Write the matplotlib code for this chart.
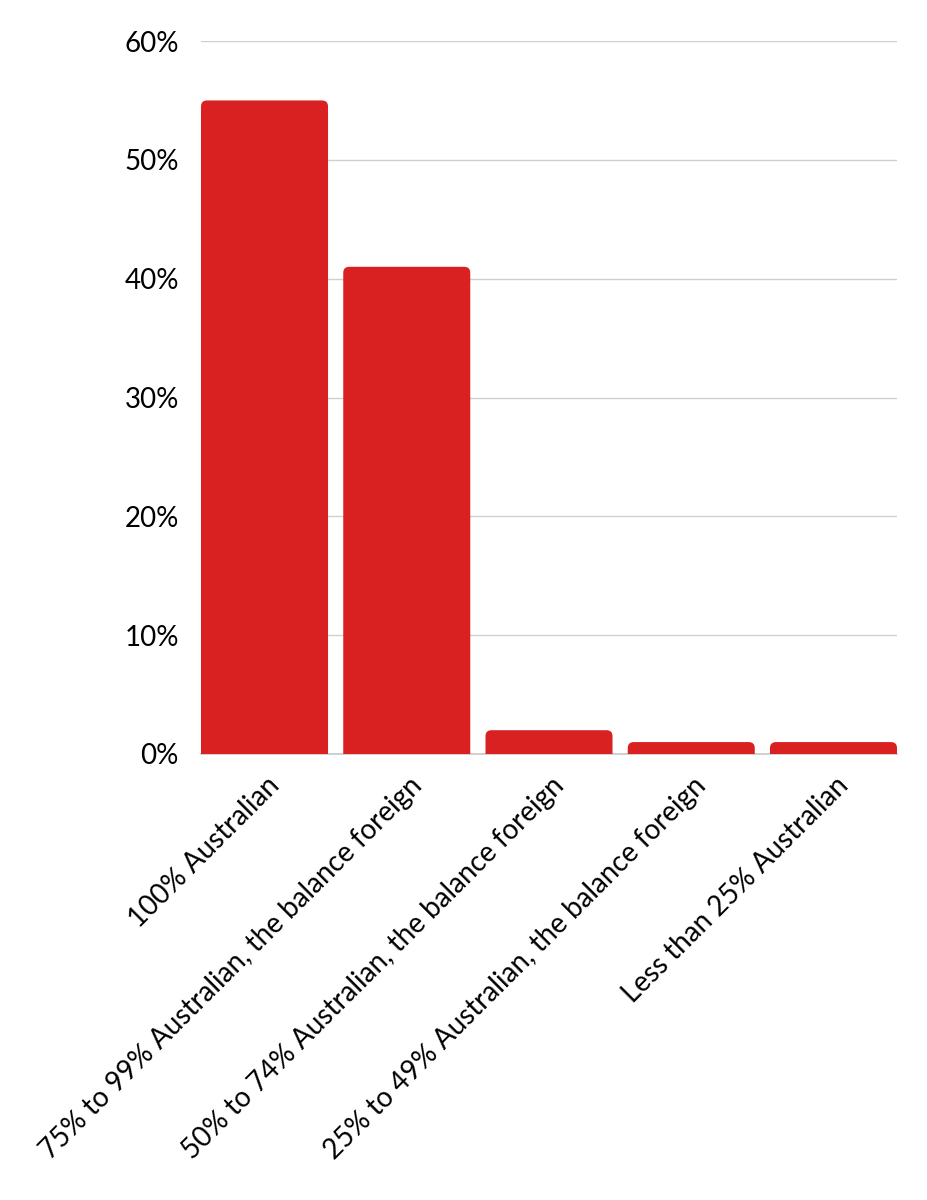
import matplotlib
matplotlib.use("Agg")
import matplotlib.pyplot as plt
import matplotlib.transforms as mtransforms
from matplotlib.patches import FancyBboxPatch

plt.rcParams['font.family'] = ['Lato', 'DejaVu Sans']

# data
categories = [
    "100% Australian",
    "75% to 99% Australian, the balance foreign",
    "50% to 74% Australian, the balance foreign",
    "25% to 49% Australian, the balance foreign",
    "Less than 25% Australian",
]
values = [55, 41, 2, 1, 1]
yticks = [0, 10, 20, 30, 40, 50, 60]

bar_color = '#d92121'
width = 0.893

fig = plt.figure(figsize=(9.28, 12), dpi=100)
ax = fig.add_axes([0.2166, 0.3717, 0.75, 0.5941])

bars = ax.bar(range(len(values)), values, width=width, color=bar_color, zorder=3)
ax.set_xlim(-width / 2, len(values) - 1 + width / 2)
ax.set_ylim(0, 60)

# swap plain bars for rounded-top ones (bottom corners sit below the axis and get clipped)
fig.canvas.draw()
bb = ax.get_window_extent()
px_x = bb.width / (ax.get_xlim()[1] - ax.get_xlim()[0])
px_y = bb.height / (ax.get_ylim()[1] - ax.get_ylim()[0])
radius = 6 / px_x
aspect = px_x / px_y
for b in bars:
    b.set_visible(False)
    x0, w, h = b.get_x(), b.get_width(), b.get_height()
    extra = radius * aspect
    p = FancyBboxPatch((x0, -extra), w, h + extra,
                       boxstyle=f"round,pad=0,rounding_size={radius}",
                       mutation_aspect=aspect, facecolor=bar_color,
                       edgecolor='none', zorder=3, clip_on=True)
    ax.add_patch(p)

ax.set_yticks(yticks)
ax.set_yticklabels([f"{t}%" for t in yticks], fontsize=20)
ax.yaxis.grid(True, color='#d0d0d0', linewidth=1, zorder=0)
ax.set_xticks(range(len(categories)))
ax.set_xticklabels(categories, fontsize=20, rotation=45, ha='right',
                   va='center', rotation_mode='anchor')
ax.tick_params(axis='x', length=0, pad=20)
ax.tick_params(axis='y', length=0, pad=16)

shift = mtransforms.ScaledTranslation(8 / 72, 0, fig.dpi_scale_trans)
for lab in ax.get_xticklabels():
    lab.set_transform(lab.get_transform() + shift)

for s in ['top', 'right', 'left']:
    ax.spines[s].set_visible(False)
ax.spines['bottom'].set_color('#c8c8c8')
ax.spines['bottom'].set_linewidth(1.2)

fig.savefig('out.png', dpi=100)
